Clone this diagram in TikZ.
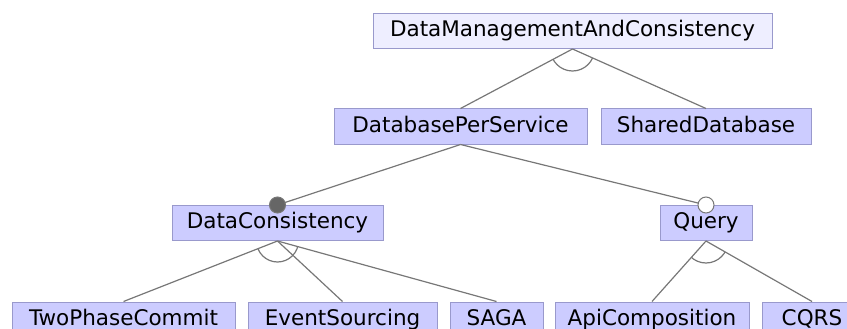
\documentclass[tikz,border=0pt]{standalone}
\usepackage{fontspec}
\setmainfont{DejaVu Sans}
\definecolor{boxfill}{HTML}{CCCCFF}
\definecolor{rootfill}{HTML}{EEEEFF}
\definecolor{boxline}{HTML}{9999CC}
\definecolor{edgecol}{HTML}{777777}
\definecolor{mandcol}{HTML}{666666}
\tikzset{
  feat/.style={draw=boxline, fill=boxfill, line width=1pt, minimum height=35pt,
    inner sep=0pt, text height=15.7pt, text depth=4.5pt,
    font=\fontsize{21.5}{24}\selectfont, text=black},
  conn/.style={draw=edgecol, line width=1.2pt},
  grouparc/.style={draw=edgecol, line width=1.2pt},
}
\begin{document}
\begin{tikzpicture}[x=1pt,y=-1pt]
\useasboundingbox (0,0) rectangle (847,329);
\node[feat, fill=rootfill, minimum width=399pt] (root) at (572.5,31) {DataManagementAndConsistency};
\node[feat, minimum width=253pt] (dps) at (460.5,126.5) {DatabasePerService};
\node[feat, minimum width=210pt] (sd) at (706,126.5) {SharedDatabase};
\node[feat, minimum width=211pt] (dc) at (277.5,223) {DataConsistency};
\node[feat, minimum width=92pt] (q) at (706,223) {Query};
\node[feat, minimum width=223pt] (tpc) at (123.5,319.5) {TwoPhaseCommit};
\node[feat, minimum width=189pt] (es) at (342.5,319.5) {EventSourcing};
\node[feat, minimum width=93pt] (saga) at (496.5,319.5) {SAGA};
\node[feat, minimum width=194pt] (ac) at (652,319.5) {ApiComposition};
\node[feat, minimum width=100pt] (cqrs) at (812,319.5) {CQRS};
% connectors
\draw[conn] (root.south) -- (dps.north);
\draw[conn] (root.south) -- (sd.north);
\draw[conn] (dps.south) -- (dc.north);
\draw[conn] (dps.south) -- (q.north);
\draw[conn] (dc.south) -- (tpc.north);
\draw[conn] (dc.south) -- (es.north);
\draw[conn] (dc.south) -- (saga.north);
\draw[conn] (q.south) -- (ac.north);
\draw[conn] (q.south) -- (cqrs.north);
% group arcs
\begin{scope}
  \clip (root.south) -- (dps.north) -- (sd.north) -- cycle;
  \draw[grouparc] (root.south) circle (22pt);
\end{scope}
\begin{scope}
  \clip (dc.south) -- (tpc.north) -- (saga.north) -- cycle;
  \draw[grouparc] (dc.south) circle (21pt);
\end{scope}
\begin{scope}
  \clip (q.south) -- (ac.north) -- (cqrs.north) -- cycle;
  \draw[grouparc] (q.south) circle (22pt);
\end{scope}
% mandatory / optional markers
\draw[draw=edgecol, line width=1pt, fill=mandcol] (dc.north) circle (8pt);
\draw[draw=edgecol, line width=1pt, fill=white] (q.north) circle (8pt);
\end{tikzpicture}
\end{document}
